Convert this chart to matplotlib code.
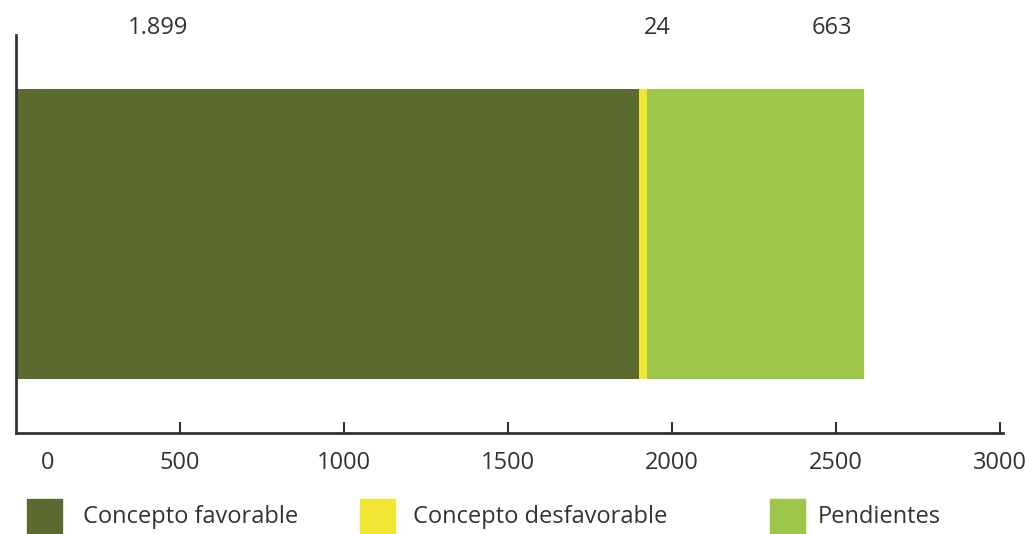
import matplotlib.pyplot as plt
import matplotlib.transforms as mtransforms
from matplotlib.patches import Rectangle

# Datos
categorias = ['Concepto favorable', 'Concepto desfavorable', 'Pendientes']
valores = [1899, 24, 663]
etiquetas = ['1.899', '24', '663']
colores = ['#5B6B2F', '#F2E634', '#9EC649']
ticks_x = [0, 500, 1000, 1500, 2000, 2500, 3000]

# posicion horizontal de las etiquetas superiores (en unidades del eje)
pos_etiquetas = [433, 1954, 2488]

plt.rcParams['font.family'] = ['Open Sans', 'DejaVu Sans']
gris = '#333333'
fs = 17

fig = plt.figure(figsize=(10.25, 5.34), dpi=100)
ax = fig.add_axes([16 / 1025, 101 / 534, (1000 - 16) / 1025, 398 / 534])

izq = 0
for val, col in zip(valores, colores):
    ax.barh(0.5, val, left=izq, height=0.729, color=col, edgecolor='none')
    izq += val

ax.set_xlim(0, 3000)
ax.set_ylim(0, 1)
ax.set_yticks([])
ax.set_xticks(ticks_x)
ax.set_xticklabels([str(t) for t in ticks_x], fontsize=fs, color=gris)
ax.tick_params(axis='x', direction='in', length=8, width=1.5, color=gris, pad=13)
ax.xaxis.get_major_ticks()[0].tick1line.set_visible(False)
# el 0 aparece algo desplazado a la derecha
lab0 = ax.get_xticklabels()[0]
lab0.set_transform(lab0.get_transform() + mtransforms.ScaledTranslation(32 / 100, 0, fig.dpi_scale_trans))

for s in ['top', 'right']:
    ax.spines[s].set_visible(False)
for s in ['left', 'bottom']:
    ax.spines[s].set_linewidth(2)
    ax.spines[s].set_color(gris)
ax.spines['bottom'].set_bounds(0, 3010)

trans = mtransforms.blended_transform_factory(ax.transData, ax.transAxes)
for x, txt in zip(pos_etiquetas, etiquetas):
    ax.text(x, 1.0176, txt, transform=trans, ha='center', va='center', fontsize=fs, color=gris)

# Leyenda
leg_x = [27, 360, 770]
txt_x = [83, 413, 818]
for x, tx, col, cat in zip(leg_x, txt_x, colores, categorias):
    fig.add_artist(Rectangle((x / 1025, 0), 35 / 1025, 35 / 534, transform=fig.transFigure,
                             color=col, clip_on=False))
    fig.text(tx / 1025, 17 / 534, cat, fontsize=fs, color=gris, va='center', ha='left')

fig.savefig('out.png', dpi=100)
